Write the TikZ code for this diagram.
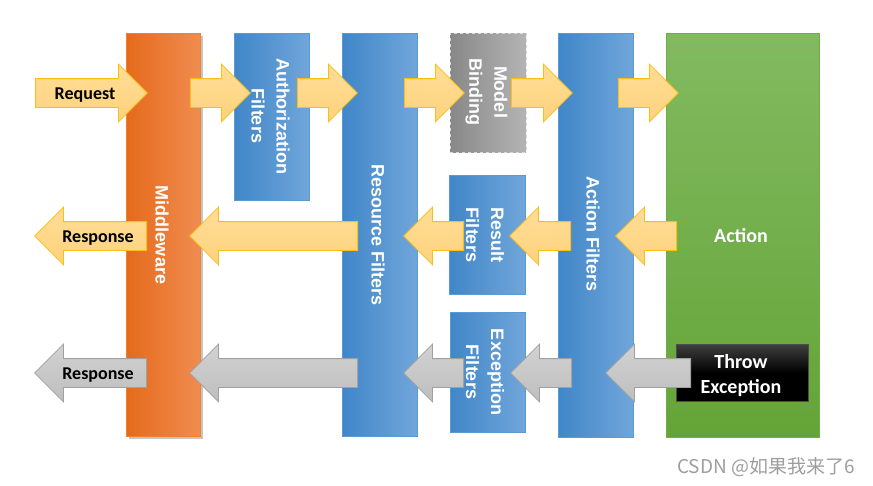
\documentclass[tikz,border=0pt]{standalone}
\usepackage{fontspec}
\setmainfont{Carlito}
\newfontfamily\rotfont{Liberation Sans}
\newfontfamily\cjkfont{Noto Sans CJK SC}
\usepackage{xcolor}
\usetikzlibrary{shapes.arrows,shadows,positioning}

\definecolor{orangeL}{RGB}{229,106,27}
\definecolor{orangeM}{RGB}{243,128,44}
\definecolor{orangeR}{RGB}{240,140,80}
\definecolor{blueL}{RGB}{64,134,200}
\definecolor{blueR}{RGB}{112,166,218}
\definecolor{blueEdge}{RGB}{91,155,213}
\definecolor{greenT}{RGB}{131,186,97}
\definecolor{greenB}{RGB}{100,164,55}
\definecolor{greenEdge}{RGB}{112,173,71}
\definecolor{grayL}{RGB}{136,136,136}
\definecolor{grayR}{RGB}{180,180,180}
\definecolor{flowT}{RGB}{255,221,150}
\definecolor{flowB}{RGB}{254,210,125}
\definecolor{flowEdge}{RGB}{250,190,20}
\definecolor{errT}{RGB}{210,210,210}
\definecolor{errB}{RGB}{190,190,190}
\definecolor{errEdge}{RGB}{160,160,160}

\begin{document}
\begin{tikzpicture}[x=1pt, y=-1pt,
    box/.style = {draw, inner sep=0pt, line width=0.8pt},
    filterbox/.style = {box, draw=blueEdge, left color=blueL, right color=blueR},
    vtext/.style = {rotate=-90, text=white, align=center,
                    font=\rotfont\bfseries\fontsize{18}{25}\selectfont},
    htext/.style = {font=\bfseries\fontsize{18}{22}\selectfont},
    flow/.style = {single arrow, draw=flowEdge, top color=flowT, bottom color=flowB,
                   line width=0.8pt, inner sep=0pt, text height=28pt, text depth=0pt,
                   single arrow head extend=14.5pt, anchor=tail},
    back/.style = {flow, shape border rotate=180},
    err/.style = {back, draw=errEdge, top color=errT, bottom color=errB}]
    \path[use as bounding box, fill=white] (0,0) rectangle (873,485);

    % pipeline boxes
    \node[box, draw=orangeM, left color=orangeL, middle color=orangeM, right color=orangeR,
          minimum width=74pt, minimum height=403pt,
          drop shadow={shadow xshift=3pt, shadow yshift=-3pt, opacity=.45}] (mw) at (163,234.5) {};
    \node[filterbox, minimum width=75pt, minimum height=167pt] (auth) at (271.5,116.5) {};
    \node[filterbox, minimum width=75pt, minimum height=403pt] (res) at (379.5,234.5) {};
    \node[box, draw=white!85!black, dashed, left color=grayL, right color=grayR,
          minimum width=76pt, minimum height=119pt] (bind) at (488,92.5) {};
    \node[filterbox, minimum width=76pt, minimum height=119pt] (result) at (487,234.5) {};
    \node[filterbox, minimum width=75pt, minimum height=120pt] (exc) at (487.5,372) {};
    \node[filterbox, minimum width=75pt, minimum height=404pt] (act) at (595.5,235) {};
    \node[box, draw=greenEdge, top color=greenT, bottom color=greenB,
          minimum width=153pt, minimum height=404pt] (action) at (742.5,235) {};
    \node[box, draw=black!70, top color=black!75, bottom color=black, middle color=black,
          minimum width=132pt, minimum height=57pt] (throw) at (742,372.5) {};

    % box labels
    \node[vtext] (mwtxt) at (162,235) {Middleware};
    \node[vtext] (authtxt) at (270.5,116) {Authorization\\Filters};
    \node[vtext] (restxt) at (378,235) {Resource Filters};
    \node[vtext] (bindtxt) at (486.5,92) {Model\\Binding};
    \node[vtext] (resulttxt) at (485,235) {Result\\Filters};
    \node[vtext] (exctxt) at (485,372) {Exception\\Filters};
    \node[vtext] (acttxt) at (593,234) {Action Filters};
    \node[htext, text=white, font=\bfseries\fontsize{20}{25}\selectfont] (actiontxt) at (741,236) {Action};

    % request flow
    \node[flow, minimum height=112pt] (req) at (35,93) {};
    \node[flow, minimum height=60pt] (f1) at (190,93) {};
    \node[flow, minimum height=60pt] (f2) at (297,93) {};
    \node[flow, minimum height=60pt] (f3) at (404,93) {};
    \node[flow, minimum height=61pt] (f4) at (511,93) {};
    \node[flow, minimum height=60pt] (f5) at (618,93) {};

    % response flow
    \node[back, minimum height=112pt] (resp) at (147,236) {};
    \node[back, minimum height=168pt] (b1) at (358,236) {};
    \node[back, minimum height=60pt] (b2) at (464,236) {};
    \node[back, minimum height=61pt] (b3) at (571,236) {};
    \node[back, minimum height=61pt] (b4) at (677,236) {};

    % exception flow
    \node[err, minimum height=112pt] (eresp) at (147,373) {};
    \node[err, minimum height=168pt] (e1) at (358,373) {};
    \node[err, minimum height=60pt] (e2) at (464,373) {};
    \node[err, minimum height=61pt] (e3) at (572,373) {};
    \node[err, minimum height=85pt] (e4) at (691,373) {};

    \node[htext] (reqtxt) at (85,95) {Request};
    \node[htext] (resptxt) at (98,238) {Response};
    \node[htext] (eresptxt) at (98,375) {Response};
    \node[align=center, text=white, font=\bfseries\fontsize{20}{25}\selectfont] (throwtxt) at (741,376) {Throw\\Exception};

    \node[text=black!38, font=\cjkfont\fontsize{19}{22}\selectfont] (mark) at (766,467) {CSDN @如果我来了6};
\end{tikzpicture}
\end{document}
